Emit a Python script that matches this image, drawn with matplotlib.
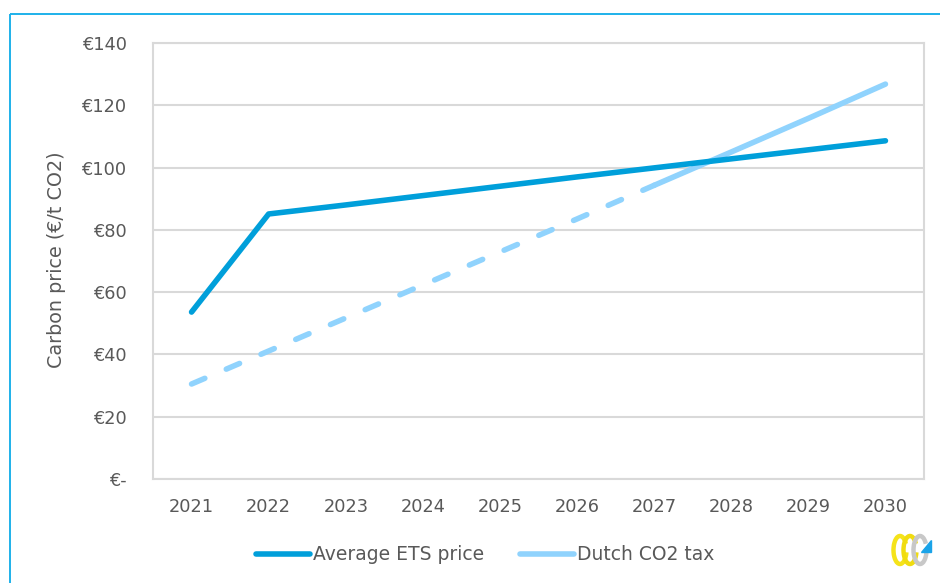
import matplotlib
matplotlib.use("Agg")
import matplotlib.pyplot as plt
from matplotlib.patches import Rectangle, Polygon, Arc
from matplotlib.lines import Line2D

years = ["2021", "2022", "2023", "2024", "2025", "2026", "2027", "2028", "2029", "2030"]
ets_price = [53.6, 85.1, 88.0, 91.0, 94.0, 97.0, 99.9, 102.8, 105.7, 108.6]
dutch_tax = [30.5, 41.1, 51.7, 62.3, 72.9, 83.5, 94.3, 105.0, 115.8, 126.8]
dashed_until = "2027"
y_ticks = [0, 20, 40, 60, 80, 100, 120, 140]
y_tick_labels = ["€-", "€20", "€40", "€60", "€80", "€100", "€120", "€140"]
series_labels = ["Average ETS price", "Dutch CO2 tax"]
y_label = "Carbon price (€/t CO2)"

W, H = 940, 583
fig = plt.figure(figsize=(W / 100, H / 100), dpi=100)
plt.rcParams['font.family'] = ['DejaVu Sans']
txt = "#595959"
grid_c = "#D9D9D9"
c_ets = "#009FDA"
c_tax = "#90D3FD"

# outer frame
fig.patches.append(Rectangle((10 / W, 1 - 14 / H), 1.0, -1.0, transform=fig.transFigure,
                             fill=False, edgecolor="#1EB1EA", linewidth=1.4, clip_on=False))

left, right, top, bottom = 153, 924, 43, 479
ax = fig.add_axes([left / W, 1 - bottom / H, (right - left) / W, (bottom - top) / H])

x = list(range(len(years)))
ax.set_xlim(-0.5, len(years) - 0.5)
ax.set_ylim(0, 140)

lw = 4.0
ax.plot(x, ets_price, color=c_ets, linewidth=lw, solid_capstyle="round",
        solid_joinstyle="round", zorder=3)
k = years.index(dashed_until)
ax.plot(x[:k + 1], dutch_tax[:k + 1], color=c_tax, linewidth=lw, dashes=(2.6, 4.2),
        dash_capstyle="round", zorder=2)
ax.plot(x[k:], dutch_tax[k:], color=c_tax, linewidth=lw, solid_capstyle="round", zorder=2)

ax.set_yticks(y_ticks)
ax.set_yticklabels(y_tick_labels)
ax.set_xticks(x)
ax.set_xticklabels(years)
ax.tick_params(axis="both", length=0, labelsize=12.8, labelcolor=txt)
ax.tick_params(axis="y", pad=19)
ax.tick_params(axis="x", pad=14)
ax.grid(axis="y", color=grid_c, linewidth=1.5)
ax.set_axisbelow(True)
for s in ax.spines.values():
    s.set_color(grid_c)
    s.set_linewidth(1.5)

fig.text(57 / W, 1 - 260 / H, y_label, rotation=90, ha="center", va="center",
         fontsize=13.8, color=txt)

handles = [Line2D([], [], color=c_ets, linewidth=lw, solid_capstyle="round"),
           Line2D([], [], color=c_tax, linewidth=lw, solid_capstyle="round")]
leg = fig.legend(handles, series_labels, loc="center", bbox_to_anchor=(485 / W, 1 - 555 / H),
                 ncol=2, frameon=False, fontsize=13.5, handlelength=2.9, handletextpad=0.15,
                 columnspacing=1.9, labelcolor=txt)

# small logo approximation
cy = 1 - 550 / H
for cx, col in [(900, "#F5E31A"), (910, "#F0DC10"), (920, "#C8C8C8")]:
    fig.patches.append(Arc((cx / W, cy), 13 / W, 28 / H, theta1=60, theta2=330,
                           transform=fig.transFigure, edgecolor=col, linewidth=3.2))
fig.patches.append(Polygon([(921 / W, 1 - 552 / H), (931 / W, 1 - 552 / H), (931 / W, 1 - 540 / H)],
                           closed=True, transform=fig.transFigure, color="#1AA3E8"))

fig.savefig("out.png", dpi=100)
